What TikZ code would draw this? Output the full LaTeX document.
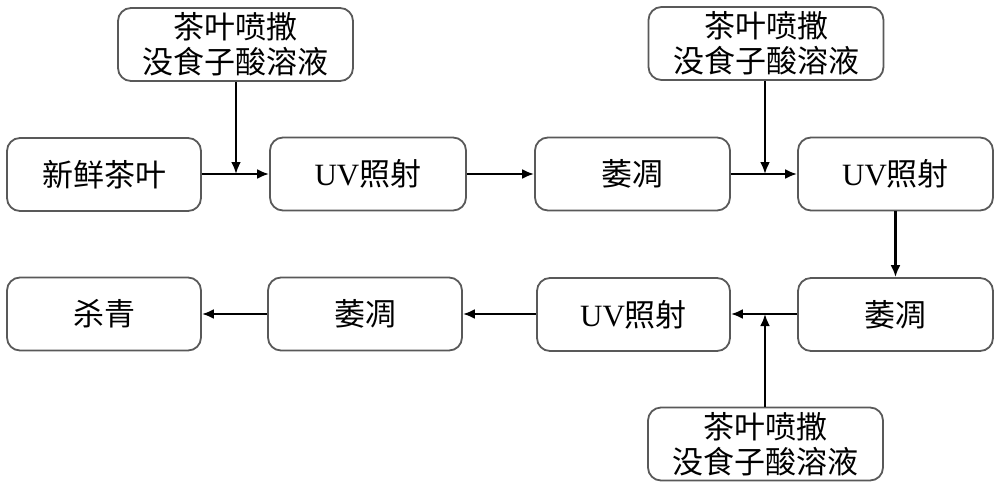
\documentclass[tikz,border=0pt]{standalone}
\usepackage{fontspec}
\setmainfont{Liberation Serif}
\newfontfamily\cjk{Noto Sans CJK SC}
\usetikzlibrary{arrows.meta}
\begin{document}
\begin{tikzpicture}[x=1pt,y=-1pt,
  box/.style={draw=black!65, line width=1.8pt, rounded corners=13pt, minimum width=194pt, minimum height=73pt, inner sep=0pt, font=\fontsize{31}{35}\selectfont, align=center},
  sbox/.style={box, minimum width=235pt},
  arr/.style={line width=2.6pt, -{Latex[length=12pt,width=10pt]}}
]
\useasboundingbox (0,0) rectangle (1000,488);
\node[sbox] (t1) at (235.5,44.5) {\cjk 茶叶喷撒\\\cjk 没食子酸溶液};
\node[sbox] (t2) at (766,43.5) {\cjk 茶叶喷撒\\\cjk 没食子酸溶液};
\node[box] (a1) at (104,174.5) {\cjk 新鲜茶叶};
\node[box, minimum width=196pt] (a2) at (368,174) {UV\cjk 照射};
\node[box, minimum width=195pt] (a3) at (632.5,174) {\cjk 萎凋};
\node[box, minimum width=195pt] (a4) at (895.5,174) {UV\cjk 照射};
\node[box] (b1) at (104,314) {\cjk 杀青};
\node[box] (b2) at (365,314) {\cjk 萎凋};
\node[box, minimum width=193pt] (b3) at (633.5,314.5) {UV\cjk 照射};
\node[box, minimum width=195pt] (b4) at (895.5,314.5) {\cjk 萎凋};
\node[sbox] (t3) at (765.5,444) {\cjk 茶叶喷撒\\\cjk 没食子酸溶液};
\coordinate (j1) at (236,174);
\coordinate (j2) at (765,174);
\coordinate (j3) at (765,314);
\draw[arr] (a1.east |- j1) -- (a2.west |- j1);
\draw[arr] (t1.south -| j1) -- (j1);
\draw[arr] (a2) -- (a3);
\draw[arr] (a3.east |- j2) -- (a4.west |- j2);
\draw[arr] (t2.south -| j2) -- (j2);
\draw[arr] (a4.south) -- (b4.north);
\draw[arr] (b4.west |- j3) -- (b3.east |- j3);
\draw[arr] (t3.north -| j3) -- (j3);
\draw[arr] (b3.west |- b2) -- (b2.east);
\draw[arr] (b2) -- (b1);
\end{tikzpicture}
\end{document}
